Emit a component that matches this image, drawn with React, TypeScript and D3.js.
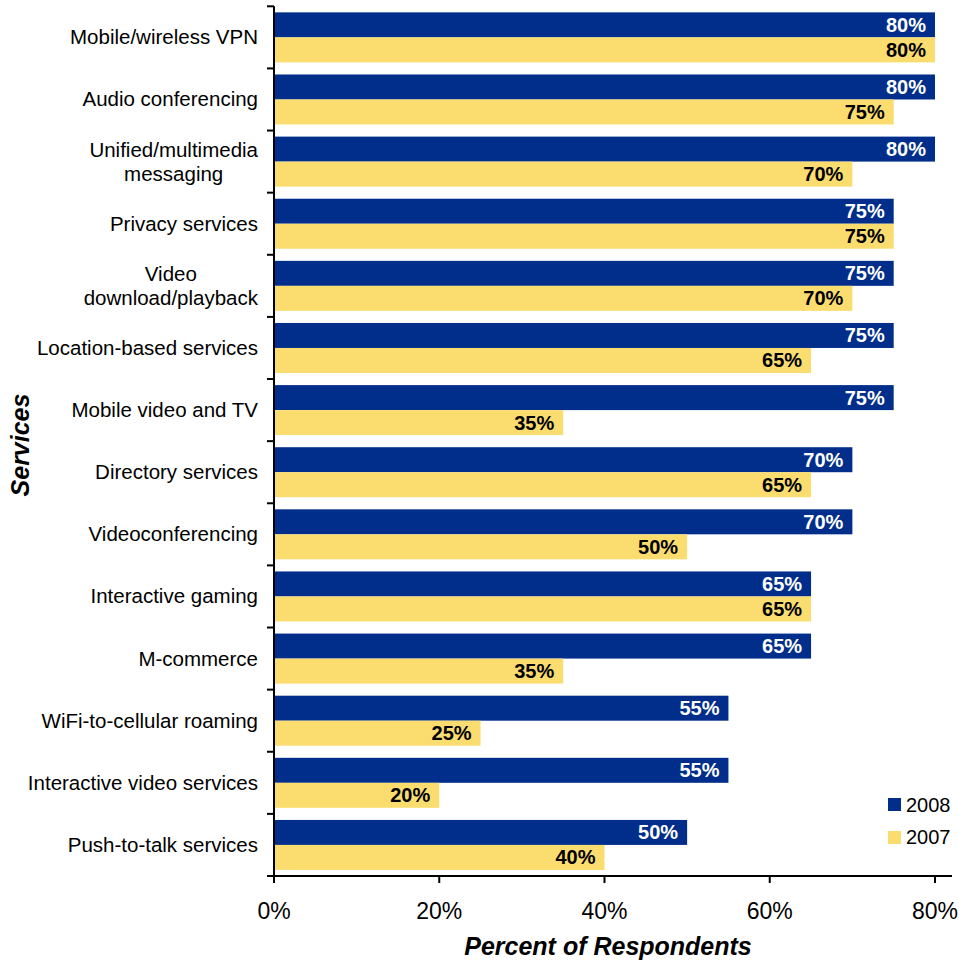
import React from "react";
import * as d3 from "d3";

const categories: string[][] = [
  ["Mobile/wireless VPN"],
  ["Audio conferencing"],
  ["Unified/multimedia", "messaging"],
  ["Privacy services"],
  ["Video", "download/playback"],
  ["Location-based services"],
  ["Mobile video and TV"],
  ["Directory services"],
  ["Videoconferencing"],
  ["Interactive gaming"],
  ["M-commerce"],
  ["WiFi-to-cellular roaming"],
  ["Interactive video services"],
  ["Push-to-talk services"],
];
const values2008 = [80, 80, 80, 75, 75, 75, 75, 70, 70, 65, 65, 55, 55, 50];
const values2007 = [80, 75, 70, 75, 70, 65, 35, 65, 50, 65, 35, 25, 20, 40];
const xTicks = [0, 20, 40, 60, 80];
const seriesNames = ["2008", "2007"];

const BLUE = "#002E8A";
const YELLOW = "#FADD6E";
const FONT = "Arial, 'Liberation Sans', Helvetica, sans-serif";
const CAT_FS = 20.5;

export default function App() {
  const W = 959, H = 960;
  const x0 = 274, x80 = 935;
  const x = d3.scaleLinear().domain([0, 80]).range([x0, x80]);
  const top = 6.3, bottom = 876;
  const idx = d3.range(categories.length);
  const y = d3.scaleBand<number>().domain(idx).range([top, bottom]);
  const bw = y.bandwidth();
  const barH = 25;
  const pad = (bw - 2 * barH) / 2;
  return (
    <svg width={W} height={H} style={{ position: "absolute", left: 0, top: 0 }} fontFamily={FONT}>
      <rect width={W} height={H} fill="#fff" />
      {idx.map((i) => {
        const yb = (y(i) as number) + pad;
        return (
          <g key={i}>
            <rect x={x(0)} y={yb} width={x(values2008[i]) - x(0)} height={barH} fill={BLUE} />
            <rect x={x(0)} y={yb + barH} width={x(values2007[i]) - x(0)} height={barH} fill={YELLOW} />
            <text x={x(values2008[i]) - 9} y={yb + barH / 2 + 7} textAnchor="end" fontSize={20} fontWeight="bold" fill="#fff">
              {values2008[i]}%
            </text>
            <text x={x(values2007[i]) - 9} y={yb + barH * 1.5 + 7} textAnchor="end" fontSize={20} fontWeight="bold" fill="#000">
              {values2007[i]}%
            </text>
          </g>
        );
      })}
      {/* axes */}
      <line x1={x0} x2={x0} y1={top} y2={bottom} stroke="#000" strokeWidth={2} />
      <line x1={x0} x2={952} y1={bottom} y2={bottom} stroke="#000" strokeWidth={2} />
      {d3.range(categories.length + 1).map((i) => {
        const yy = top + i * bw;
        return <line key={"yt" + i} x1={x0 - 7} x2={x0} y1={yy} y2={yy} stroke="#000" strokeWidth={2} />;
      })}
      {xTicks.map((t) => (
        <g key={"xt" + t}>
          <line x1={x(t)} x2={x(t)} y1={bottom} y2={bottom + 7} stroke="#000" strokeWidth={2} />
          <text x={x(t)} y={919} textAnchor="middle" fontSize={23} fill="#000">
            {t}%
          </text>
        </g>
      ))}
      {idx.map((i) => {
        const lines = categories[i];
        const cy = (y(i) as number) + bw / 2;
        const lh = 24;
        if (lines.length === 1) {
          return (
            <text key={"c" + i} x={258} y={cy + 7} textAnchor="end" fontSize={CAT_FS} fill="#000">
              {lines[0]}
            </text>
          );
        }
        const widths = lines.map((l) => l.length);
        const longest = lines[widths.indexOf(Math.max(...widths))];
        return (
          <g key={"c" + i}>
            {lines.map((l, k) => (
              <text
                key={k}
                x={258}
                y={cy + 7 + (k - (lines.length - 1) / 2) * lh}
                textAnchor="middle"
                fontSize={CAT_FS}
                fill="#000"
                ref={(el) => {
                  if (!el) return;
                  const probe = document.createElementNS("http://www.w3.org/2000/svg", "text");
                  probe.setAttribute("font-size", String(CAT_FS));
                  probe.setAttribute("font-family", FONT);
                  probe.textContent = longest;
                  el.parentNode?.appendChild(probe);
                  const w = probe.getComputedTextLength();
                  probe.remove();
                  el.setAttribute("x", String(258 - w / 2));
                }}
              >
                {l}
              </text>
            ))}
          </g>
        );
      })}
      {/* axis titles */}
      <text x={608} y={955} textAnchor="middle" fontSize={25} fontWeight="bold" fontStyle="italic" fill="#000">
        Percent of Respondents
      </text>
      <text transform="translate(29,445) rotate(-90)" textAnchor="middle" fontSize={25} fontWeight="bold" fontStyle="italic" fill="#000">
        Services
      </text>
      {/* legend */}
      {seriesNames.map((s, k) => (
        <g key={s}>
          <rect x={888} y={798 + k * 33} width={13} height={13} fill={k === 0 ? BLUE : YELLOW} />
          <text x={906} y={812 + k * 32} fontSize={20} fill="#000">
            {s}
          </text>
        </g>
      ))}
    </svg>
  );
}
